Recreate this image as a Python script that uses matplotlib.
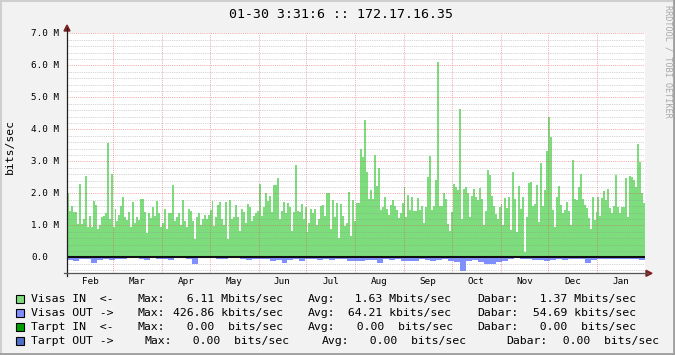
import numpy as np
import matplotlib
matplotlib.use("Agg")
import matplotlib.pyplot as plt
from matplotlib.patches import Rectangle, Polygon
from matplotlib.lines import Line2D
import datetime as dt

# ---------------- data (Mbits/sec) ----------------
title = "01-30 3:31:6 :: 172.17.16.35"
start_date = dt.date(2009, 1, 31)
end_date = dt.date(2010, 1, 31)

visas_in = [
    2.0, 1.45, 1.6, 1.43, 1.43, 1.03, 2.3, 1.03, 1.2, 2.55, 0.96, 1.3, 0.96, 1.76, 1.64, 0.9, 1.0, 1.25,
    1.3, 1.4, 3.58, 1.19, 2.6, 0.96, 1.5, 1.13, 1.32, 1.6, 1.9, 1.25, 1.17, 1.43, 0.96, 1.74, 1.06, 1.25,
    1.17, 1.81, 1.81, 1.43, 0.77, 1.37, 1.22, 1.56, 1.3, 1.77, 1.4, 0.94, 1.06, 1.5,
    0.9, 1.4, 1.4, 2.26, 1.15, 1.25, 1.4, 1.0, 1.8, 1.12, 0.96, 1.5, 1.46, 1.15, 0.56, 1.25, 1.4, 1.0,
    1.19, 1.32, 1.19, 1.32, 1.48, 1.77, 0.98, 1.25, 1.64, 1.74, 1.19, 1.0, 1.74, 0.56, 1.8, 1.19, 1.25,
    1.64, 1.25, 0.83, 1.5, 1.43, 1.06, 1.67, 1.58, 1.15, 1.3, 1.38, 1.46, 2.3,
    1.3, 1.58, 2.0, 1.77, 1.92, 1.43, 2.26, 2.26, 2.47, 1.19, 1.46, 1.74, 1.38, 1.7, 1.56, 0.83, 1.43,
    2.89, 1.46, 1.43, 1.67, 1.19, 1.56, 0.8, 1.06, 1.5, 1.38, 1.5, 1.0, 1.19, 1.6, 1.64, 1.3, 2.0, 2.0,
    0.9, 1.8, 1.25, 1.7, 0.6, 1.67, 1.3, 0.98, 1.08, 2.05, 0.67, 1.8, 1.15, 1.7,
    1.69, 3.37, 3.15, 4.29, 2.68, 1.81, 2.1, 1.81, 3.2, 2.23, 2.78, 1.48, 1.56, 1.88, 1.5, 1.32, 1.64,
    1.79, 1.6, 1.48, 1.22, 1.38, 1.71, 2.19, 1.25, 1.95, 1.48, 1.9, 1.46, 1.46, 1.85, 1.48, 1.6, 1.06,
    1.56, 2.5, 3.17, 1.48, 1.6, 2.42, 6.11, 1.6, 1.6, 2.0, 1.81, 1.04, 0.83, 1.43,
    2.29, 2.19, 2.1, 4.62, 1.19, 2.15, 2.19, 2.02, 1.27, 1.92, 2.13, 1.9, 1.79, 2.17, 1.81, 1.01, 1.46,
    2.73, 2.57, 1.92, 1.6, 1.35, 1.19, 1.58, 1.67, 1.01, 1.85, 1.53, 1.88, 0.85, 2.68, 1.81, 0.8, 2.23,
    1.5, 1.88, 0.18, 1.27, 2.31, 2.36, 1.6, 1.67, 2.27, 1.11, 2.96, 1.6, 2.1, 3.33,
    4.37, 3.75, 1.48, 0.96, 1.88, 2.23, 1.64, 1.4, 1.48, 1.74, 1.46, 1.01, 3.04, 1.81, 1.79, 2.19, 2.6,
    1.81, 1.64, 1.53, 1.22, 0.9, 1.9, 1.17, 1.43, 1.9, 1.29, 1.85, 2.08, 1.79, 2.13, 1.53, 1.38, 1.6,
    2.57, 1.58, 1.38, 1.58, 1.58, 2.47, 1.27, 2.54, 2.5, 2.42, 2.19, 3.54, 2.99, 2.0, 1.69,
]

visas_out = [
    0.08, 0.1, 0.06, 0.05, 0.17, 0.07, 0.05, 0.09, 0.04, 0.06, 0.02, 0.03, 0.06, 0.08, 0.03, 0.05,
    0.05, 0.07, 0.03, 0.02, 0.06, 0.2, 0.03, 0.01, 0.02, 0.04, 0.06, 0.03, 0.02, 0.04, 0.07, 0.05,
    0.06, 0.04, 0.1, 0.07, 0.18, 0.09, 0.05, 0.1, 0.04, 0.06, 0.08, 0.05, 0.07, 0.04, 0.06, 0.1,
    0.12, 0.1, 0.08, 0.07, 0.19, 0.06, 0.08, 0.05, 0.1, 0.12, 0.11, 0.06, 0.08, 0.1, 0.07, 0.06,
    0.1, 0.14, 0.43, 0.12, 0.09, 0.14, 0.2, 0.22, 0.15, 0.1, 0.05, 0.03, 0.04, 0.06, 0.07, 0.08,
    0.12, 0.08, 0.06, 0.07, 0.05, 0.06, 0.04, 0.19, 0.07, 0.05, 0.04, 0.06, 0.05, 0.04, 0.05, 0.06, 0.08,
]

y_ticks = [0, 1, 2, 3, 4, 5, 6, 7]
y_tick_labels = ["0.0", "1.0 M", "2.0 M", "3.0 M", "4.0 M", "5.0 M", "6.0 M", "7.0 M"]
month_labels = ["Feb", "Mar", "Apr", "May", "Jun", "Jul", "Aug", "Sep", "Oct", "Nov", "Dec", "Jan"]

legend_rows = [
    ("#7ddd7d", [(31, "Visas IN  <-"), (137.7, "Max:"), (172.9, "  6.11 Mbits/sec"), (307.7, "Avg:"),
                 (341.2, "  1.63 Mbits/sec"), (477.7, "Dabar:"), (526.2, "  1.37 Mbits/sec")]),
    ("#7f8fff", [(31, "Visas OUT ->"), (137.7, "Max:"), (172.9, "426.86 kbits/sec"), (307.7, "Avg:"),
                 (341.2, " 64.21 kbits/sec"), (477.7, "Dabar:"), (526.2, " 54.69 kbits/sec")]),
    ("#00a000", [(31, "Tarpt IN  <-"), (137.7, "Max:"), (172.9, "  0.00  bits/sec"), (307.7, "Avg:"),
                 (342.9, "  0.00  bits/sec"), (477.7, "Dabar:"), (526.2, "  0.00  bits/sec")]),
    ("#4f6fc8", [(31, "Tarpt OUT ->"), (144.3, "Max:"), (179.5, "  0.00  bits/sec"), (321.7, "Avg:"),
                 (356.2, "  0.00  bits/sec"), (506.7, "Dabar:"), (548.9, "  0.00  bits/sec")]),
]
legend_y = [299, 313.3, 327.3, 341]

# ---------------- figure ----------------
W, H = 675, 355
MONO = "DejaVu Sans Mono"
fig = plt.figure(figsize=(W / 100, H / 100), dpi=100)
fig.patch.set_facecolor("#f2f2f2")

def fx(x):
    return x / W

def fy(y):
    return 1 - y / H

# shaded frame
fig.add_artist(Line2D([0, 1], [fy(0.5), fy(0.5)], color="#cfcfcf", lw=1.5))
fig.add_artist(Line2D([fx(0.5), fx(0.5)], [0, 1], color="#cfcfcf", lw=1.5))
fig.add_artist(Line2D([0, 1], [fy(354), fy(354)], color="#9e9e9e", lw=2))
fig.add_artist(Line2D([fx(674), fx(674)], [0, 1], color="#9e9e9e", lw=2))

L, R, T, B = 67, 645, 33.3, 273.3
ax = fig.add_axes([fx(L), fy(B), (R - L) / W, (B - T) / H])
ax.set_facecolor("white")
total_days = (end_date - start_date).days
ax.set_xlim(0, total_days)
ax.set_ylim(-0.5, 7.0)
for s in ax.spines.values():
    s.set_visible(False)
ax.set_xticks([])
ax.set_yticks([])

edges_in = np.linspace(0, total_days, len(visas_in) + 1)
ax.stairs(visas_in, edges_in, fill=True, color="#7ddd7d", baseline=0, zorder=2)
edges_out = np.linspace(0, total_days, len(visas_out) + 1)
ax.stairs(-np.array(visas_out), edges_out, fill=True, color="#7f8fff", baseline=0, zorder=2)

# grid (drawn on top, like rrdtool)
dots = (0, (1, 1.2))
for v in np.arange(-0.4, 7.01, 0.2):
    if abs(v - round(v)) < 1e-6:
        ax.axhline(v, color="#de5050", alpha=0.5, lw=0.7, ls=dots, zorder=3)
    else:
        ax.axhline(v, color="#8f8f8f", alpha=0.52, lw=0.6, ls=dots, zorder=3)

month_starts = []
d = dt.date(2009, 3, 1)
while d < end_date:
    month_starts.append((d - start_date).days)
    d = dt.date(d.year + (d.month // 12), d.month % 12 + 1, 1)
for m in month_starts:
    ax.axvline(m, color="#de5050", alpha=0.5, lw=0.7, ls=dots, zorder=3)

# zero line
ax.axhline(0, color="#101010", lw=1.5, zorder=4)

# month labels (centered in each month)
bounds = [0] + month_starts + [total_days]
for i, lab in enumerate(month_labels):
    mid = (bounds[i] + bounds[i + 1]) / 2
    ax.text(mid, -(281 - B) / (B - T), lab, transform=ax.get_xaxis_transform(),
            ha="center", va="center", fontsize=6.7, family=MONO, clip_on=False)

# y tick labels
for v, lab in zip(y_ticks, y_tick_labels):
    ax.text((31 - L) / (R - L), v, lab, transform=ax.get_yaxis_transform(),
            ha="left", va="center", fontsize=6.7, family=MONO, clip_on=False)

# axes lines and arrows
fig.add_artist(Line2D([fx(L), fx(L)], [fy(B + 3), fy(28)], color="#1f1f1f", lw=0.9))
fig.add_artist(Line2D([fx(L - 3), fx(648)], [fy(B), fy(B)], color="#555555", lw=0.9))
fig.add_artist(Polygon([[fx(L - 3), fy(31)], [fx(L + 3), fy(31)], [fx(L), fy(25)]],
                       closed=True, color="#7f1f1f"))
fig.add_artist(Polygon([[fx(646), fy(B - 3)], [fx(646), fy(B + 3)], [fx(652), fy(B)]],
                       closed=True, color="#7f1f1f"))

# title, unit label, watermark
fig.text(fx(341), fy(15), title, ha="center", va="center", fontsize=9.5, family=MONO)
fig.text(fx(10), fy(146), "bits/sec", ha="center", va="center", rotation=90,
         fontsize=8.2, family=MONO)
fig.text(fx(668), fy(61), "RRDTOOL / TOBI OETIKER", ha="center", va="center", rotation=270,
         fontsize=6.1, family=MONO, color="#a8a8a8")

# legend
for (col, segs), yy in zip(legend_rows, legend_y):
    fig.add_artist(Rectangle((fx(15.5), fy(yy + 4)), 8 / W, 8 / H, facecolor=col,
                             edgecolor="black", lw=0.8))
    for x, s in segs:
        fig.text(fx(x), fy(yy), s, ha="left", va="center", fontsize=8.25, family=MONO)

fig.savefig("out.png", dpi=100, facecolor=fig.get_facecolor())
